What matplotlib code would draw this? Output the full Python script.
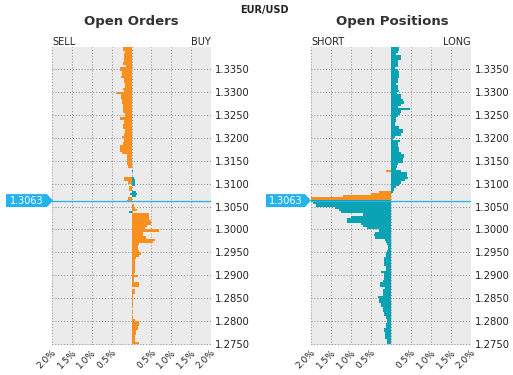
import numpy as np
import matplotlib
matplotlib.use('Agg')
import matplotlib.pyplot as plt
from matplotlib.patches import Polygon
from matplotlib.transforms import blended_transform_factory

ORANGE = '#F7901E'
TEAL = '#0AA2B5'
BLUE = '#25B3EC'

# price buckets of 0.0005, lowest first; every line below = 10 buckets (0.0050)
first_level = 1.2750
bucket = 0.0005
n_buckets = 130
current_price = 1.3063

# Open Orders (% of orders per bucket)
sell_limit = [
    0, 0, 0, 0, 0, 0, 0, 0, 0, 0,                      # 1.2750
    0, 0, 0, 0, 0, 0, 0, 0, 0, 0,                      # 1.2800
    0, 0, 0, 0, 0, 0, 0, 0, 0, 0,                      # 1.2850
    0, 0, 0, 0, 0, 0, 0, 0, 0, 0,                      # 1.2900
    0, 0, 0, 0, 0, 0, 0, 0, 0, 0,                      # 1.2950
    0, 0, 0, 0, 0, 0, 0, 0, 0, 0,                      # 1.3000
    0, 0, 0.12, 0.10, 0, 0, 0, 0.07, 0.07, 0,          # 1.3050
    0.08, 0.18, 0.20, 0, 0, 0, 0, 0.08, 0.11, 0.12,    # 1.3100
    0.12, 0.12, 0.12, 0.24, 0.28, 0.30, 0.30, 0.22, 0.20, 0.20,  # 1.3150
    0.24, 0.20, 0.17, 0.17, 0.22, 0.22, 0.19, 0.19, 0.30, 0.17,  # 1.3200
    0.17, 0.22, 0.22, 0.22, 0.22, 0.24, 0.24, 0.27, 0.27, 0.38,  # 1.3250
    0.20, 0.22, 0.16, 0.16, 0.19, 0.19, 0.27, 0.24, 0.24, 0.30,  # 1.3300
    0.30, 0.13, 0.22, 0.18, 0.18, 0.19, 0.19, 0.16, 0.22, 0.22,  # 1.3350
]
buy_limit = [
    0.20, 0.09, 0.09, 0.09, 0.12, 0.12, 0.16, 0.16, 0.20, 0.20,  # 1.2750
    0.10, 0.03, 0.02, 0.04, 0.03, 0.02, 0.03, 0.04, 0.03, 0.05,  # 1.2800
    0.03, 0.04, 0.08, 0.08, 0, 0.20, 0.20, 0.06, 0.06, 0.16,     # 1.2850
    0.06, 0.08, 0.09, 0.09, 0.09, 0.08, 0.08, 0.12, 0.20, 0.24,  # 1.2900
    0.20, 0.16, 0.16, 0.20, 0.53, 0.58, 0.37, 0.30, 0.30, 0.70,  # 1.2950
    0.33, 0.40, 0.50, 0.50, 0.45, 0.45, 0.45, 0.05, 0.13, 0.08,  # 1.3000
    0.07, 0, 0, 0, 0, 0, 0, 0, 0, 0,                   # 1.3050
    0, 0, 0, 0, 0, 0, 0, 0, 0, 0,                      # 1.3100
    0, 0, 0, 0, 0, 0, 0, 0, 0, 0,                      # 1.3150
    0, 0, 0, 0, 0, 0, 0, 0, 0, 0,                      # 1.3200
    0, 0, 0, 0, 0, 0, 0, 0, 0, 0,                      # 1.3250
    0, 0, 0, 0, 0, 0, 0, 0, 0, 0,                      # 1.3300
    0, 0, 0, 0, 0, 0, 0, 0, 0, 0,                      # 1.3350
]
buy_stop_levels = [1.3070, 1.3075, 1.3080, 1.3095, 1.3100, 1.3105, 1.3110, 1.3125]
buy_stop = [0.12, 0.14, 0.12, 0.08, 0.10, 0.08, 0.06, 0.03]
sell_stop_levels = [1.3035, 1.3075]
sell_stop = [0.07, 0.03]

# Open Positions (% of positions per bucket)
long_pos = [
    0, 0, 0, 0, 0, 0, 0, 0, 0, 0,                      # 1.2750
    0, 0, 0, 0, 0, 0, 0, 0, 0, 0,                      # 1.2800
    0, 0, 0, 0, 0, 0, 0, 0, 0, 0,                      # 1.2850
    0, 0, 0, 0, 0, 0, 0, 0, 0, 0,                      # 1.2900
    0, 0, 0, 0, 0, 0, 0, 0, 0, 0,                      # 1.2950
    0, 0, 0, 0, 0, 0, 0, 0, 0, 0,                      # 1.3000
    0, 0, 0, 0, 0, 0, 0.05, 0.08, 0.12, 0.20,          # 1.3050
    0.25, 0.35, 0.43, 0.40, 0.40, 0.25, 0.12, 0.15, 0.18, 0.29,  # 1.3100
    0.29, 0.33, 0.33, 0.25, 0.21, 0.21, 0.17, 0.17, 0.23, 0.05,  # 1.3150
    0.10, 0.25, 0.29, 0.29, 0.21, 0.10, 0.10, 0.12, 0.12, 0.18,  # 1.3200
    0.22, 0.25, 0.48, 0.17, 0.25, 0.32, 0.30, 0.25, 0.25, 0.15,  # 1.3250
    0.21, 0.17, 0.17, 0.12, 0.18, 0.18, 0.21, 0.21, 0.21, 0.17,  # 1.3300
    0.10, 0.18, 0.17, 0.17, 0.25, 0.25, 0.12, 0.17, 0.21, 0.21,  # 1.3350
]
short_pos = [
    0.10, 0.10, 0.15, 0.15, 0.15, 0.18, 0.18, 0.12, 0.12, 0.10,  # 1.2750
    0.10, 0.12, 0.17, 0.17, 0.20, 0.20, 0.25, 0.25, 0.29, 0.30,  # 1.2800
    0.33, 0.20, 0.20, 0.20, 0.14, 0.27, 0.27, 0.20, 0.18, 0.18,  # 1.2850
    0.18, 0.25, 0.12, 0.12, 0.17, 0.17, 0.17, 0.17, 0.12, 0.12,  # 1.2900
    0.10, 0.08, 0.08, 0.10, 0.12, 0.15, 0.40, 0.42, 0.40, 0.30,  # 1.2950
    0.60, 0.70, 0.75, 1.10, 1.10, 1.00, 0.70, 1.25, 1.30, 1.40,  # 1.3000
    1.87, 1.95, 2.00, 0, 0, 0, 0, 0, 0, 0,             # 1.3050
    0, 0, 0, 0, 0, 0, 0, 0, 0, 0,                      # 1.3100
    0, 0, 0, 0, 0, 0, 0, 0, 0, 0,                      # 1.3150
    0, 0, 0, 0, 0, 0, 0, 0, 0, 0,                      # 1.3200
    0, 0, 0, 0, 0, 0, 0, 0, 0, 0,                      # 1.3250
    0, 0, 0, 0, 0, 0, 0, 0, 0, 0,                      # 1.3300
    0, 0, 0, 0, 0, 0, 0, 0, 0, 0,                      # 1.3350
]
short_profit_levels = [1.3065, 1.3070, 1.3075, 1.3080, 1.3125]
short_profit = [2.00, 1.20, 0.50, 0.30, 0.12]

levels = np.round(first_level + bucket * np.arange(n_buckets), 4)
y_ticks = [1.2750, 1.2800, 1.2850, 1.2900, 1.2950, 1.3000, 1.3050,
           1.3100, 1.3150, 1.3200, 1.3250, 1.3300, 1.3350]
x_ticks = [-2, -1.5, -1, -0.5, 0, 0.5, 1, 1.5, 2]
x_labels = ['2.0%', '1.5%', '1.0%', '0.5%', '', '0.5%', '1.0%', '1.5%', '2.0%']

W, H = 513, 375
fig = plt.figure(figsize=(W / 100, H / 100), dpi=100)
fig.patch.set_facecolor('white')


def hbars(ax, lv, vals, color, side):
    vals = np.asarray(vals, dtype=float)
    ax.barh(lv, side * vals, height=bucket, align='edge', color=color,
            linewidth=0, antialiased=False, zorder=2)


def setup(ax, tip_px, box_left_px):
    ax.set_facecolor('#EBEBEB')
    ax.set_xlim(-2, 2)
    ax.set_ylim(1.27475, 1.33985)
    ax.set_xticks(x_ticks)
    ax.set_xticklabels(x_labels, rotation=45, ha='right', va='top',
                       rotation_mode='anchor', fontsize=6.5)
    ax.set_yticks(y_ticks)
    ax.set_yticklabels([f'{v:.4f}' for v in y_ticks], fontsize=7.2)
    ax.yaxis.tick_right()
    ax.tick_params(length=0, colors='#222222')
    ax.tick_params(axis='y', pad=3)
    ax.tick_params(axis='x', pad=2)
    for s in ax.spines.values():
        s.set_visible(False)
    ax.grid(True, color='#8a8a8a', linestyle=(0, (1, 2)), linewidth=0.7)
    ax.set_axisbelow(True)

    # current price line with the arrow label
    ax.axhline(current_price, color=BLUE, linewidth=0.9, zorder=3)
    trans = blended_transform_factory(fig.transFigure, ax.transData)
    hh = 0.00142
    x0, x1, x2 = box_left_px / W, (tip_px - 6) / W, tip_px / W
    pts = [(x0, current_price + hh), (x1, current_price + hh), (x2, current_price),
           (x1, current_price - hh), (x0, current_price - hh)]
    ax.add_patch(Polygon(pts, closed=True, transform=trans, clip_on=False,
                         facecolor=BLUE, edgecolor='none', zorder=4))
    ax.text((x0 + x1) / 2, current_price, f'{current_price:.4f}', transform=trans,
            ha='center', va='center', color='white', fontsize=7, clip_on=False, zorder=5)


ax_l = fig.add_axes([52 / W, 30 / H, 159 / W, 298 / H])
ax_r = fig.add_axes([311 / W, 30 / H, 160 / W, 298 / H])

hbars(ax_l, levels, sell_limit, ORANGE, -1)
hbars(ax_l, levels, buy_limit, ORANGE, 1)
hbars(ax_l, buy_stop_levels, buy_stop, TEAL, 1)
hbars(ax_l, sell_stop_levels, sell_stop, TEAL, -1)
setup(ax_l, 53, 6)

hbars(ax_r, levels, long_pos, TEAL, 1)
hbars(ax_r, levels, short_pos, TEAL, -1)
hbars(ax_r, short_profit_levels, short_profit, ORANGE, -1)
setup(ax_r, 311, 266)

fig.text(264 / W, 1 - 10 / H, 'EUR/USD', ha='center', va='center',
         fontsize=7, fontweight='bold', color='#222222')
fig.text(131 / W, 1 - 22 / H, 'Open Orders', ha='center', va='center',
         fontsize=9.5, fontweight='bold', color='#333333')
fig.text(392 / W, 1 - 22 / H, 'Open Positions', ha='center', va='center',
         fontsize=9.5, fontweight='bold', color='#333333')
fig.text(52 / W, 1 - 42 / H, 'SELL', ha='left', va='center', fontsize=7, color='#222222')
fig.text(211 / W, 1 - 42 / H, 'BUY', ha='right', va='center', fontsize=7, color='#222222')
fig.text(311 / W, 1 - 42 / H, 'SHORT', ha='left', va='center', fontsize=7, color='#222222')
fig.text(471 / W, 1 - 42 / H, 'LONG', ha='right', va='center', fontsize=7, color='#222222')

fig.savefig('out.png', dpi=100, facecolor='white')
